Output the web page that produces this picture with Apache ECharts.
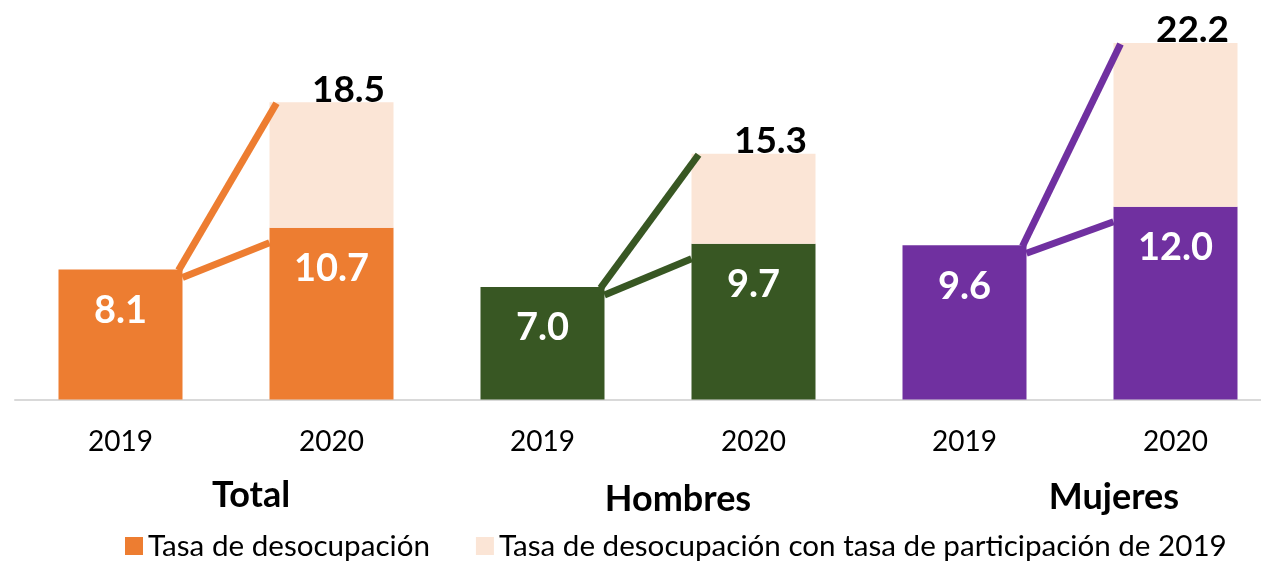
<!DOCTYPE html>
<html>
<head>
<meta charset="utf-8">
<script src="https://cdn.jsdelivr.net/npm/echarts@6/dist/echarts.min.js"></script>
<style>
html,body{margin:0;padding:0;background:#fff;}
#chart{width:1261px;height:561px;}
</style>
</head>
<body>
<div id="chart"></div>
<script>
const groups = ['Total', 'Hombres', 'Mujeres'];
const years = ['2019', '2020'];
const rate2019 = [8.1, 7.0, 9.6];
const rate2020 = [10.7, 9.7, 12.0];
const rateAdj2020 = [18.5, 15.3, 22.2];
const groupColors = ['#ED7D31', '#385723', '#7030A0'];
const lightColor = '#FBE5D6';
const legendNames = ['Tasa de desocupación', 'Tasa de desocupación con tasa de participación de 2019'];

const FONT = 'Lato';
const categories = [];
const baseData = [];
const extraData = [];
const lineData = [];
groups.forEach((g, i) => {
  categories.push(g + ' ' + years[0], g + ' ' + years[1]);
  baseData.push({ value: rate2019[i], itemStyle: { color: groupColors[i] } });
  baseData.push({ value: rate2020[i], itemStyle: { color: groupColors[i] } });
  extraData.push({ value: null, total: null });
  extraData.push({ value: +(rateAdj2020[i] - rate2020[i]).toFixed(1), total: rateAdj2020[i] });
  lineData.push([2 * i, rate2019[i], rate2020[i], rateAdj2020[i], i]);
});

const chart = echarts.init(document.getElementById('chart'));
const BAR_W = 124;
chart.setOption({
  animation: false,
  grid: { left: 15, width: 1266, top: 14, bottom: 161.5, containLabel: false, outerBoundsMode: 'none' },
  xAxis: {
    type: 'category',
    data: categories,
    axisLine: { show: true, lineStyle: { color: '#D9D9D9', width: 2 } },
    axisTick: { show: false },
    axisLabel: {
      formatter: (v) => v.split(' ')[1],
      color: '#000', fontFamily: FONT, fontSize: 28, margin: 28
    }
  },
  yAxis: { type: 'value', min: 0, max: 24, show: false, splitLine: { show: false } },
  legend: {
    bottom: -5,
    left: 120,
    itemWidth: 18, itemHeight: 18, itemGap: 46,
    icon: 'rect',
    textStyle: { fontFamily: FONT, fontSize: 29.6, color: '#000', padding: [0, 0, 0, 0] },
    data: legendNames
  },
  series: [
    {
      name: legendNames[0],
      type: 'bar',
      stack: 's',
      barWidth: BAR_W,
      itemStyle: { color: groupColors[0] },
      data: baseData,
      label: {
        show: true, position: 'insideTop', distance: 22,
        color: '#fff', fontFamily: FONT, fontWeight: 'bold', fontSize: 38,
        formatter: (p) => p.value.toFixed(1)
      },
      z: 2
    },
    {
      name: legendNames[1],
      type: 'bar',
      stack: 's',
      barWidth: BAR_W,
      itemStyle: { color: lightColor },
      data: extraData,
      label: {
        show: true, position: 'top', distance: -6, offset: [17, 0],
        color: '#000', fontFamily: FONT, fontWeight: 'bold', fontSize: 37,
        formatter: (p) => p.data.total == null ? '' : p.data.total.toFixed(1)
      },
      z: 2
    },
    {
      type: 'custom',
      silent: true,
      z: 5,
      encode: { x: 0, y: 1 },
      data: lineData,
      renderItem: (params, api) => {
        const i0 = api.value(0);
        const v19 = api.value(1), v20 = api.value(2), vAdj = api.value(3);
        const col = groupColors[api.value(4)];
        const p19 = api.coord([i0, v19]);
        const p20 = api.coord([i0 + 1, v20]);
        const pAdj = api.coord([i0 + 1, vAdj]);
        const hw = BAR_W / 2;
        const style = { stroke: col, lineWidth: 7 };
        return {
          type: 'group',
          children: [
            { type: 'line', shape: { x1: p19[0] + hw - 4, y1: p19[1] + 1, x2: pAdj[0] - hw + 7, y2: pAdj[1] + 1 }, style: style },
            { type: 'line', shape: { x1: p19[0] + hw, y1: p19[1] + 8, x2: p20[0] - hw, y2: p20[1] + 15 }, style: style }
          ]
        };
      }
    }
  ],
  graphic: [
    { type: 'text', x: 251, y: 495, style: { text: groups[0], fontFamily: FONT, fontWeight: 'bold', fontSize: 36, fill: '#000', align: 'center', verticalAlign: 'middle' } },
    { type: 'text', x: 678, y: 499, style: { text: groups[1], fontFamily: FONT, fontWeight: 'bold', fontSize: 36, fill: '#000', align: 'center', verticalAlign: 'middle' } },
    { type: 'text', x: 1114, y: 497, style: { text: groups[2], fontFamily: FONT, fontWeight: 'bold', fontSize: 36, fill: '#000', align: 'center', verticalAlign: 'middle' } }
  ]
});
</script>
</body>
</html>
